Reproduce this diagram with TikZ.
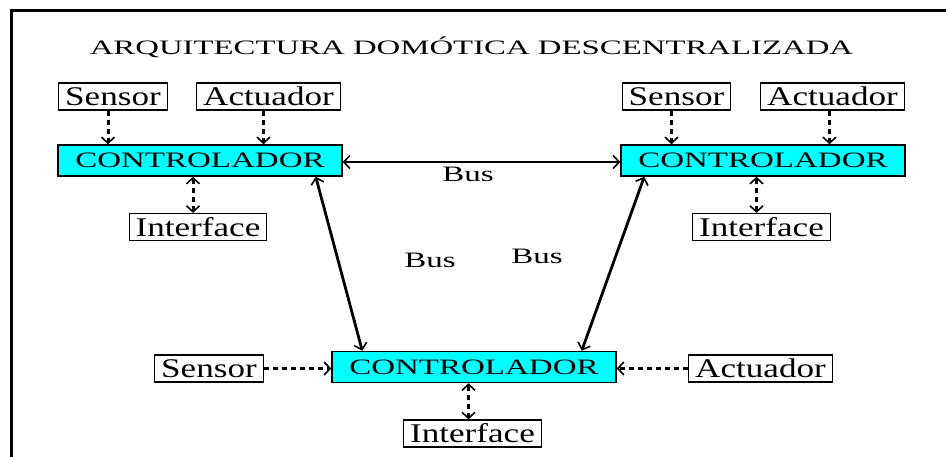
\documentclass[tikz,border=0pt]{standalone}
\usepackage{fontspec}
\setmainfont{Liberation Serif}
\newfontfamily\fPeri[FakeStretch=1.3]{Liberation Serif}
\newfontfamily\fCtrl[FakeStretch=1.5]{Liberation Serif}
\newfontfamily\fTitulo[FakeStretch=1.6]{Liberation Serif}
\usetikzlibrary{arrows.meta, positioning}
\definecolor{cian}{RGB}{0,255,255}
\tikzstyle{periferico} = [
    rectangle, draw=black, line width=1.2pt, fill=white,
    inner xsep=6.5pt, inner ysep=0pt, minimum height=27pt,
    text centered, font=\fPeri\fontsize{27pt}{30pt}\selectfont
]
\tikzstyle{controlador} = [
    rectangle, draw=black, line width=1.5pt, fill=cian,
    minimum width=284pt, minimum height=31pt, inner sep=0pt,
    text centered, font=\fCtrl\fontsize{22pt}{25pt}\selectfont
]
\tikzstyle{titulo} = [inner sep=0pt, font=\fTitulo\fontsize{20.5pt}{24pt}\selectfont]
\tikzstyle{etiqueta} = [inner sep=0pt, font=\fCtrl\fontsize{22pt}{25pt}\selectfont]
\tikzstyle{flecha_pt} = [line width=3pt, dash pattern=on 5pt off 4pt, ->,
    >={Straight Barb[length=6pt, width=13pt, line width=1.6pt]}]
\tikzstyle{flecha_bus} = [line width=2.8pt, <->,
    >={Straight Barb[length=6pt, width=13pt, line width=1.6pt]}]

\begin{document}
\begin{tikzpicture}[x=1pt, y=1pt, node distance=64pt]
\clip (0,0) rectangle (946,456);
\draw [line width=3pt] (11,-20) rectangle (980,445);

% Titulo y controladores
\node (Titulo) [titulo] at (471.5,409) {ARQUITECTURA DOMÓTICA DESCENTRALIZADA};
\node (Ctrl_1) [controlador] at (200,295.5) {CONTROLADOR};
\node (Ctrl_2) [controlador] at (763,295.5) {CONTROLADOR};
\node (Ctrl_3) [controlador] at (474,89) {CONTROLADOR};

% Perifericos
\node (Sensor_1) [periferico, above of=Ctrl_1, xshift=-87pt] {Sensor};
\node (Actuador_1) [periferico, above of=Ctrl_1, xshift=68.5pt] {Actuador};
\node (Interface_1) [periferico, below of=Ctrl_1, xshift=-2pt, yshift=-2.5pt] {Interface};
\node (Sensor_2) [periferico, above of=Ctrl_2, xshift=-86.5pt] {Sensor};
\node (Actuador_2) [periferico, above of=Ctrl_2, xshift=69.5pt] {Actuador};
\node (Interface_2) [periferico, below of=Ctrl_2, xshift=-1.5pt, yshift=-2.5pt] {Interface};
\node (Sensor_3) [periferico, left of=Ctrl_3, xshift=-201pt, yshift=-1.5pt] {Sensor};
\node (Actuador_3) [periferico, right of=Ctrl_3, xshift=222.5pt, yshift=-1.5pt] {Actuador};
\node (Interface_3) [periferico, below of=Ctrl_3, xshift=-1.5pt, yshift=-2.5pt] {Interface};

% Etiquetas del bus
\node (Bus_12) [etiqueta] at (468,282) {Bus};
\node (Bus_13) [etiqueta] at (430,196) {Bus};
\node (Bus_23) [etiqueta] at (537,200) {Bus};

% Conexiones locales
\draw [flecha_pt] ([xshift=-5pt]Sensor_1.south) -- ([xshift=-5pt]Sensor_1.south |- Ctrl_1.north);
\draw [flecha_pt] ([xshift=-5pt]Actuador_1.south) -- ([xshift=-5pt]Actuador_1.south |- Ctrl_1.north);
\draw [flecha_pt, <->] ([xshift=-5pt]Interface_1.north) -- ([xshift=-5pt]Interface_1.north |- Ctrl_1.south);
\draw [flecha_pt] ([xshift=-5pt]Sensor_2.south) -- ([xshift=-5pt]Sensor_2.south |- Ctrl_2.north);
\draw [flecha_pt] ([xshift=-3pt]Actuador_2.south) -- ([xshift=-3pt]Actuador_2.south |- Ctrl_2.north);
\draw [flecha_pt, <->] ([xshift=-5pt]Interface_2.north) -- ([xshift=-5pt]Interface_2.north |- Ctrl_2.south);
\draw [flecha_pt] (Sensor_3.east) -- (Sensor_3.east -| Ctrl_3.west);
\draw [flecha_pt] (Actuador_3.west) -- (Actuador_3.west -| Ctrl_3.east);
\draw [flecha_pt, <->] ([xshift=-4pt]Interface_3.north) -- ([xshift=-4pt]Interface_3.north |- Ctrl_3.south);

% Bus
\draw [flecha_bus] ([yshift=-1.5pt]Ctrl_1.east) -- ([yshift=-1.5pt]Ctrl_2.west);
\draw [flecha_bus] ([xshift=-27pt]Ctrl_1.south east) -- ([xshift=31pt]Ctrl_3.north west);
\draw [flecha_bus] ([xshift=24pt]Ctrl_2.south west) -- ([xshift=-35pt]Ctrl_3.north east);

\end{tikzpicture}
\end{document}
